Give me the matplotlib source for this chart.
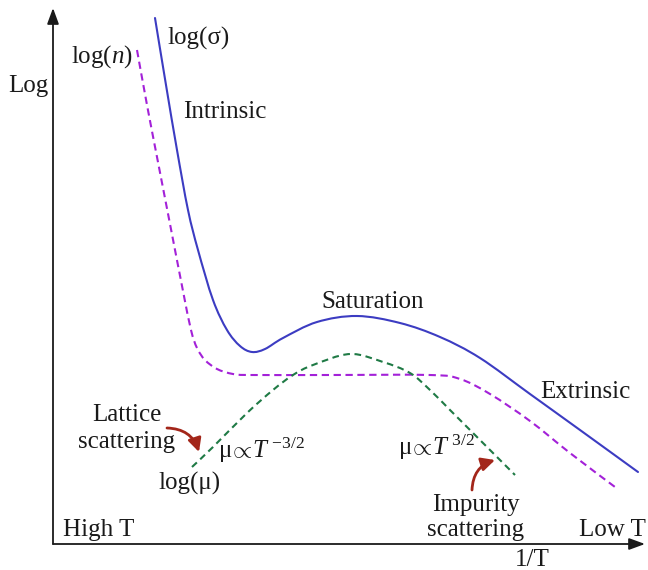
import numpy as np
import matplotlib
matplotlib.use("Agg")
import matplotlib.pyplot as plt
from matplotlib.path import Path
from matplotlib.patches import PathPatch

plt.rcParams['font.family'] = ['Liberation Serif', 'DejaVu Serif']
plt.rcParams['mathtext.fontset'] = 'custom'
plt.rcParams['mathtext.rm'] = 'Liberation Serif'
plt.rcParams['mathtext.it'] = 'Liberation Serif:italic'

# ---- data (x = 1/T, y = log, arbitrary schematic units) ----
sigma_x = [102, 113, 124, 135, 145, 160, 174, 187, 199, 212, 230, 264, 304, 347, 387, 427, 477, 527, 585]
sigma_y = [526, 459, 394, 334, 294, 244, 214, 198, 192, 195, 206, 222, 228, 221, 207, 186, 150, 114, 72]

n_x = [84, 94, 104, 117, 130, 138, 144, 152, 164, 180, 197, 277, 377, 407, 437, 477, 517, 562]
n_y = [494, 439, 387, 320, 253, 214, 196, 184, 175, 170, 169, 169, 169, 165, 150, 123, 91, 57]

mu_x = [139, 160, 194, 220, 240, 260, 297, 330, 357, 377, 397, 417, 437, 462]
mu_y = [77, 97, 131, 154, 169, 179, 190, 182, 171, 154, 134, 114, 94, 69]

BLUE = '#3c3cc2'
PURPLE = '#a321d8'
GREEN = '#1f7a45'
RED = '#a3261a'
FS = 18


def smooth_path(xs, ys):
    p = np.column_stack([xs, ys]).astype(float)
    n = len(p)
    verts = [p[0]]
    codes = [Path.MOVETO]
    for i in range(n - 1):
        p0 = p[i - 1] if i > 0 else p[i]
        p1 = p[i]
        p2 = p[i + 1]
        p3 = p[i + 2] if i + 2 < n else p[i + 1]
        c1 = p1 + (p2 - p0) / 6.0
        c2 = p2 - (p3 - p1) / 6.0
        verts += [c1, c2, p2]
        codes += [Path.CURVE4] * 3
    return Path(verts, codes)


fig = plt.figure(figsize=(6.48, 5.70), dpi=100)
ax = fig.add_axes([0, 0, 1, 1])
ax.set_xlim(-53, 595)
ax.set_ylim(-26, 544)
ax.axis('off')

ax.add_patch(PathPatch(smooth_path(sigma_x, sigma_y), fill=False, ec=BLUE, lw=1.5,
                       capstyle='round'))
ax.add_patch(PathPatch(smooth_path(n_x, n_y), fill=False, ec=PURPLE, lw=1.5,
                       linestyle=(0, (3.5, 2.2))))
ax.add_patch(PathPatch(smooth_path(mu_x, mu_y), fill=False, ec=GREEN, lw=1.5,
                       linestyle=(0, (3.2, 2.2))))

# axes with arrows
ax.annotate('', xy=(0, 536), xytext=(0, 0),
            arrowprops=dict(arrowstyle='-|>,head_length=0.6,head_width=0.22',
                            mutation_scale=16, lw=1.3, color='#1a1a1a',
                            shrinkA=0, shrinkB=0))
ax.annotate('', xy=(592, 0), xytext=(0, 0),
            arrowprops=dict(arrowstyle='-|>,head_length=0.6,head_width=0.22',
                            mutation_scale=16, lw=1.3, color='#1a1a1a',
                            shrinkA=0, shrinkB=0))

# red curved arrows
ax.annotate('', xy=(146, 92), xytext=(114, 116),
            arrowprops=dict(arrowstyle='-|>,head_length=0.5,head_width=0.25',
                            mutation_scale=16, lw=2, color=RED,
                            connectionstyle='arc3,rad=-0.35', shrinkA=0, shrinkB=0))
ax.annotate('', xy=(442, 84), xytext=(419, 54),
            arrowprops=dict(arrowstyle='-|>,head_length=0.5,head_width=0.25',
                            mutation_scale=16, lw=2, color=RED,
                            connectionstyle='arc3,rad=-0.35', shrinkA=0, shrinkB=0))

kw = dict(fontsize=FS, color='#1a1a1a')
ax.text(-25, 458, 'Log', ha='center', va='center', **kw)
ax.text(49, 487, r'log($\mathit{n}$)', ha='center', va='center', **kw)
ax.text(146, 506, 'log(σ)', ha='center', va='center', **kw)
ax.text(172, 432, 'Intrinsic', ha='center', va='center', **kw)
ax.text(320, 242, 'Saturation', ha='center', va='center', **kw)
ax.text(532, 152, 'Extrinsic', ha='center', va='center', **kw)
ax.text(74, 129, 'Lattice', ha='center', va='center', **kw)
ax.text(74, 102, 'scattering', ha='center', va='center', **kw)
ax.text(165, 86, r'$\mathrm{μ}\!\propto\! T^{\ \mathrm{-3/2}}$', ha='left', va='baseline', **kw)
ax.text(137, 61, 'log(μ)', ha='center', va='center', **kw)
ax.text(10, 14, 'High T', ha='left', va='center', **kw)
ax.text(345, 89, r'$\mathrm{μ}\!\propto\! T^{\ \mathrm{3/2}}$', ha='left', va='baseline', **kw)
ax.text(423, 39, 'Impurity', ha='center', va='center', **kw)
ax.text(423, 14, 'scattering', ha='center', va='center', **kw)
ax.text(559, 14, 'Low T', ha='center', va='center', **kw)
ax.text(479, -16, '1/T', ha='center', va='center', **kw)

fig.savefig('out.png', dpi=100)
